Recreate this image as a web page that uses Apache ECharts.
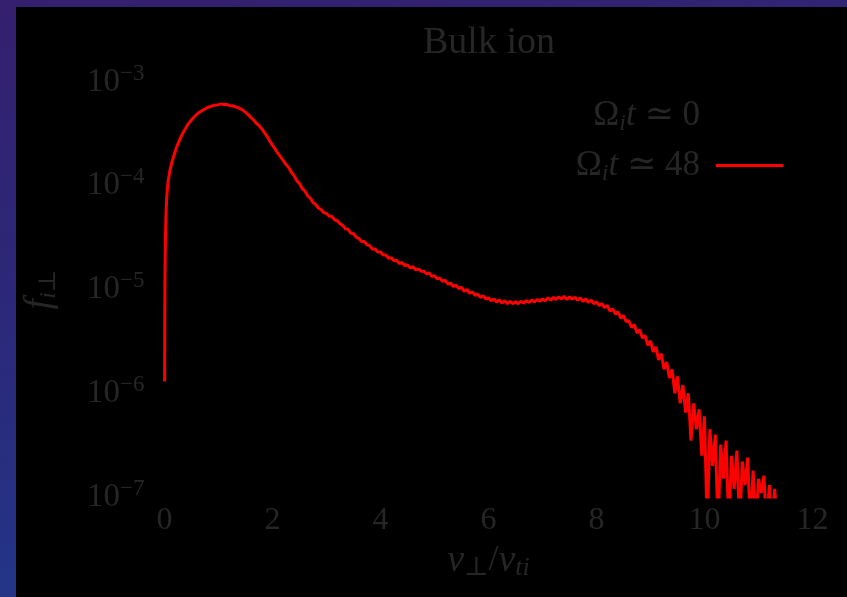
<!DOCTYPE html>
<html>
<head>
<meta charset="utf-8">
<script src="https://cdn.jsdelivr.net/npm/echarts@6/dist/echarts.min.js"></script>
<style>
  html, body { margin: 0; padding: 0; width: 847px; height: 597px; overflow: hidden;
    background: linear-gradient(170deg, #34206e 0%, #2a2a7c 50%, #1f3c8f 100%); }
  #panel { position: absolute; left: 16px; top: 7px; width: 831px; height: 590px; background: #000; }
  #chart { position: absolute; left: 0; top: 0; width: 847px; height: 597px; }
</style>
</head>
<body>
<div id="panel"></div>
<div id="chart"></div>
<script>
// ---- data ----
const titleText = 'Bulk ion';
const seriesNames = ['Ω_i t ≃ 0', 'Ω_i t ≃ 48'];
const xTicks = [0, 2, 4, 6, 8, 10, 12];
const yTickExponents = [-7, -6, -5, -4, -3];

// perpendicular velocity v_perp / v_ti
const vPerp = [
  0.003, 0.005, 0.008, 0.012, 0.018, 0.028, 0.045, 0.07, 0.10, 0.133,
  0.18, 0.226, 0.29, 0.35, 0.44, 0.53, 0.62, 0.72, 0.82, 0.92,
  1.00, 1.05, 1.10, 1.15, 1.20, 1.25, 1.30, 1.35, 1.40, 1.45,
  1.50, 1.55, 1.60, 1.65, 1.70, 1.75, 1.80, 1.85, 1.90, 1.95,
  2.00, 2.05, 2.10, 2.15, 2.20, 2.25, 2.30, 2.35, 2.40, 2.45,
  2.50, 2.55, 2.60, 2.65, 2.70, 2.75, 2.80, 2.85, 2.90, 2.95,
  3.00, 3.05, 3.10, 3.15, 3.20, 3.25, 3.30, 3.35, 3.40, 3.45,
  3.50, 3.55, 3.60, 3.65, 3.70, 3.75, 3.80, 3.85, 3.90, 3.95,
  4.00, 4.05, 4.10, 4.15, 4.20, 4.25, 4.30, 4.35, 4.40, 4.45,
  4.50, 4.55, 4.60, 4.65, 4.70, 4.75, 4.80, 4.85, 4.90, 4.95,
  5.00, 5.05, 5.10, 5.15, 5.20, 5.25, 5.30, 5.35, 5.40, 5.45,
  5.50, 5.55, 5.60, 5.65, 5.70, 5.75, 5.80, 5.85, 5.90, 5.95,
  6.00, 6.05, 6.10, 6.15, 6.20, 6.25, 6.30, 6.35, 6.40, 6.45,
  6.50, 6.55, 6.60, 6.65, 6.70, 6.75, 6.80, 6.85, 6.90, 6.95,
  7.00, 7.05, 7.10, 7.15, 7.20, 7.25, 7.30, 7.35, 7.40, 7.45,
  7.50, 7.55, 7.60, 7.65, 7.70, 7.75, 7.80, 7.85, 7.90, 7.95,
  8.00, 8.05, 8.10, 8.15, 8.20, 8.25, 8.30, 8.35, 8.40, 8.45,
  8.50, 8.55, 8.60, 8.65, 8.70, 8.75, 8.80, 8.85, 8.90, 8.95,
  9.00, 9.05, 9.10, 9.15, 9.20, 9.25, 9.30, 9.35, 9.40, 9.45,
  9.50, 9.55, 9.60, 9.65, 9.70, 9.75, 9.80, 9.85, 9.90, 9.95,
  10.00, 10.05, 10.10, 10.15, 10.20, 10.25, 10.30, 10.35, 10.40, 10.45,
  10.50, 10.55, 10.60, 10.65, 10.70, 10.75, 10.80, 10.85, 10.90, 10.95,
  11.00, 11.05, 11.10, 11.15, 11.20, 11.25, 11.30, 11.35
];

// f_i_perp at Omega_i t ~ 48 (red curve)
const fAt48 = [
  1.3e-6, 5e-6, 1.1e-5, 2.0e-5, 3.3e-5, 5.5e-5, 8.3e-5, 1.13e-4, 1.4e-4, 1.66e-4,
  2.0e-4, 2.37e-4, 2.85e-4, 3.3e-4, 3.95e-4, 4.5e-4, 5.0e-4, 5.4e-4, 5.75e-4, 5.95e-4,
  6.05e-4, 6.15e-4, 6.05e-4, 6.1e-4, 5.95e-4, 5.9e-4, 5.8e-4, 5.7e-4, 5.55e-4, 5.35e-4,
  5.1e-4, 4.85e-4, 4.55e-4, 4.3e-4, 4.0e-4, 3.8e-4, 3.55e-4, 3.25e-4, 3.0e-4, 2.7e-4,
  2.45e-4, 2.25e-4, 2.05e-4, 1.9e-4, 1.75e-4, 1.6e-4, 1.5e-4, 1.35e-4, 1.25e-4, 1.12e-4,
  1.05e-4, 9.4e-5, 8.9e-5, 8.0e-5, 7.6e-5, 6.9e-5, 6.6e-5, 6.1e-5, 5.9e-5, 5.5e-5,
  5.4e-5, 5.1e-5, 5.05e-5, 4.7e-5, 4.6e-5, 4.3e-5, 4.15e-5, 3.85e-5, 3.8e-5, 3.5e-5,
  3.45e-5, 3.2e-5, 3.1e-5, 2.9e-5, 2.9e-5, 2.7e-5, 2.65e-5, 2.45e-5, 2.45e-5, 2.3e-5,
  2.3e-5, 2.15e-5, 2.15e-5, 2.0e-5, 2.02e-5, 1.9e-5, 1.9e-5, 1.78e-5, 1.82e-5, 1.7e-5,
  1.72e-5, 1.62e-5, 1.66e-5, 1.55e-5, 1.58e-5, 1.5e-5, 1.5e-5, 1.42e-5, 1.44e-5, 1.34e-5,
  1.36e-5, 1.27e-5, 1.28e-5, 1.2e-5, 1.22e-5, 1.13e-5, 1.15e-5, 1.07e-5, 1.1e-5, 1.02e-5,
  1.05e-5, 9.6e-6, 1.0e-5, 9.2e-6, 9.5e-6, 8.8e-6, 9.0e-6, 8.4e-6, 8.7e-6, 8.1e-6,
  8.3e-6, 7.8e-6, 8.1e-6, 7.6e-6, 7.9e-6, 7.4e-6, 7.8e-6, 7.3e-6, 7.7e-6, 7.3e-6,
  7.6e-6, 7.3e-6, 7.7e-6, 7.4e-6, 7.8e-6, 7.5e-6, 7.9e-6, 7.6e-6, 8.0e-6, 7.7e-6,
  8.1e-6, 7.8e-6, 8.3e-6, 7.9e-6, 8.4e-6, 8.0e-6, 8.5e-6, 8.1e-6, 8.6e-6, 8.0e-6,
  8.5e-6, 8.1e-6, 8.4e-6, 7.9e-6, 8.3e-6, 7.7e-6, 8.1e-6, 7.5e-6, 7.9e-6, 7.3e-6,
  7.6e-6, 7.0e-6, 7.3e-6, 6.7e-6, 7.0e-6, 6.2e-6, 6.5e-6, 5.8e-6, 6.1e-6, 5.3e-6,
  5.6e-6, 4.9e-6, 5.0e-6, 4.3e-6, 4.6e-6, 3.8e-6, 4.1e-6, 3.4e-6, 3.6e-6, 2.9e-6,
  3.2e-6, 2.5e-6, 2.8e-6, 2.1e-6, 2.4e-6, 1.7e-6, 2.0e-6, 1.4e-6, 1.7e-6, 1.0e-6,
  1.45e-6, 8e-7, 1.2e-6, 6.5e-7, 1.0e-6, 3.5e-7, 8e-7, 4.5e-7, 7e-7, 2.5e-7,
  6e-7, 5e-8, 4.5e-7, 2e-7, 4e-7, 5e-8, 3.2e-7, 1.5e-7, 3.5e-7, 5e-8,
  2.5e-7, 1.2e-7, 2.8e-7, 5e-8, 2.2e-7, 1.3e-7, 2.4e-7, 5e-8, 1.8e-7, 5e-8,
  1.5e-7, 1.1e-7, 1.6e-7, 5e-8, 1.3e-7, 5e-8, 1.2e-7, 5e-8
];

// Omega_i t ~ 0 curve is drawn in black on the black panel (not visible)
const vPerp0 = [];
const fAt0 = [];

// ---- chart ----
const FONT = '"Liberation Serif", "DejaVu Serif", serif';
const TXT = '#262626';

const pts48 = vPerp.map((v, i) => [v, fAt48[i]]);
const pts0 = vPerp0.map((v, i) => [v, fAt0[i]]);

const legendLabels = {
  'Ω_i t ≃ 0': '{o|Ω}{sub|i}{it|t}{end| ≃ 0}',
  'Ω_i t ≃ 48': '{o|Ω}{sub|i}{it|t}{end| ≃ 48}'
};
const legendRich = {
  o:   { fontFamily: FONT, fontSize: 35, color: TXT, lineHeight: 40 },
  it:  { fontFamily: FONT, fontSize: 35, fontStyle: 'italic', color: TXT, lineHeight: 40 },
  sub: { fontFamily: FONT, fontSize: 24, fontStyle: 'italic', color: TXT, lineHeight: 24, verticalAlign: 'bottom' },
  end: { fontFamily: FONT, fontSize: 35, color: TXT, lineHeight: 40, padding: [0, 11, 0, 0] }
};

const chart = echarts.init(document.getElementById('chart'), null, { renderer: 'canvas' });
chart.setOption({
  backgroundColor: 'transparent',
  animation: false,
  title: {
    text: titleText,
    left: 489,
    textAlign: 'center',
    top: 22,
    padding: 0,
    textStyle: { fontFamily: FONT, fontSize: 38, fontWeight: 'normal', color: TXT, lineHeight: 42 }
  },
  legend: [
    {
      data: [seriesNames[0]], right: 59, top: 93, orient: 'vertical', align: 'right',
      icon: 'rect', itemWidth: 67, itemHeight: 3, formatter: n => legendLabels[n],
      textStyle: { rich: legendRich, color: TXT }, selectedMode: false
    },
    {
      data: [seriesNames[1]], right: 59, top: 143, orient: 'vertical', align: 'right',
      icon: 'rect', itemWidth: 67, itemHeight: 3, formatter: n => legendLabels[n],
      textStyle: { rich: legendRich, color: TXT }, selectedMode: false
    }
  ],
  grid: { left: 164.5, right: 34.5, top: 82, bottom: 100, containLabel: false },
  xAxis: {
    type: 'value', min: xTicks[0], max: xTicks[xTicks.length - 1], interval: xTicks[1] - xTicks[0],
    axisLine: { show: false }, axisTick: { show: false }, splitLine: { show: false },
    axisLabel: { fontFamily: FONT, fontSize: 32, color: TXT, margin: 8, lineHeight: 32 },
    name: '{it|v}{sub|⊥}{o|/}{it|v}{sub|ti}',
    nameLocation: 'middle', nameGap: 44,
    nameTextStyle: { rich: {
      o:   { fontFamily: FONT, fontSize: 36, color: TXT, lineHeight: 40 },
      it:  { fontFamily: FONT, fontSize: 38, fontStyle: 'italic', color: TXT, lineHeight: 40 },
      sub: { fontFamily: FONT, fontSize: 26, fontStyle: 'italic', color: TXT, lineHeight: 24, verticalAlign: 'bottom' }
    } }
  },
  yAxis: {
    type: 'log', logBase: 10,
    min: Math.pow(10, yTickExponents[0]), max: Math.pow(10, yTickExponents[yTickExponents.length - 1]),
    axisLine: { show: false }, axisTick: { show: false }, splitLine: { show: false },
    minorTick: { show: false }, minorSplitLine: { show: false },
    axisLabel: {
      margin: 20,
      formatter: v => {
        const e = Math.round(Math.log10(v));
        return '{b|10}{s|' + (e < 0 ? '−' : '') + Math.abs(e) + '}';
      },
      rich: {
        b: { fontFamily: FONT, fontSize: 33, color: TXT, lineHeight: 40 },
        s: { fontFamily: FONT, fontSize: 23, color: TXT, lineHeight: 22, verticalAlign: 'top' }
      }
    },
    name: '{it|f}{sub|i⊥}',
    nameLocation: 'middle', nameGap: 104,
    nameTextStyle: { rich: {
      it:  { fontFamily: FONT, fontSize: 38, fontStyle: 'italic', color: TXT, lineHeight: 40 },
      sub: { fontFamily: FONT, fontSize: 24, fontStyle: 'italic', color: TXT, lineHeight: 24, verticalAlign: 'bottom' }
    } }
  },
  series: [
    {
      name: seriesNames[0], type: 'line', data: pts0, symbol: 'none',
      lineStyle: { color: '#000000', width: 3 }, itemStyle: { color: '#000000' }
    },
    {
      name: seriesNames[1], type: 'line', data: pts48, symbol: 'none', clip: true,
      lineStyle: { color: '#ff0000', width: 3 }, itemStyle: { color: '#ff0000' }
    }
  ]
});
</script>
</body>
</html>
